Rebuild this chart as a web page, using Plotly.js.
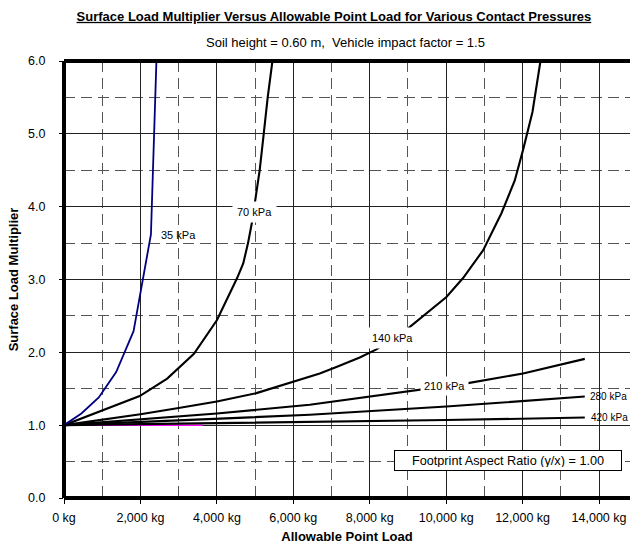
<!DOCTYPE html>
<html>
<head>
<meta charset="utf-8">
<script src="https://cdn.plot.ly/plotly-3.0.1.min.js"></script>
<style>html,body{margin:0;padding:0;background:#fff;}#chart{width:630px;height:544px;}</style>
</head>
<body>
<div id="chart"></div>
<script>
// ---- data ----
var x35 = [0, 455, 910, 1365, 1820, 2275, 2418];
var y35 = [1.00, 1.16, 1.38, 1.73, 2.29, 3.62, 6.00];

var x70 = [0, 930, 1980, 2700, 3030, 3400, 4000, 4340, 4530, 4690, 4815, 4920, 5035, 5120, 5226, 5330, 5454];
var y70 = [1.00, 1.19, 1.40, 1.64, 1.80, 1.98, 2.44, 2.81, 3.02, 3.22, 3.50, 3.79, 4.18, 4.50, 5.00, 5.50, 6.00];

var x140 = [0, 1000, 2000, 3000, 4000, 5035, 6168, 6692, 7128, 7738, 8175, 9003, 10007, 10442, 10965, 11446, 11795, 12012, 12258, 12345, 12467];
var y140 = [1.00, 1.07, 1.15, 1.235, 1.325, 1.44, 1.62, 1.71, 1.80, 1.93, 2.04, 2.33, 2.76, 3.02, 3.40, 3.91, 4.36, 4.78, 5.30, 5.60, 6.00];

var x210 = [0, 2000, 4000, 6430, 8000, 9309, 10573, 12012, 13627];
var y210 = [1.00, 1.075, 1.16, 1.28, 1.39, 1.485, 1.577, 1.71, 1.91];

var x280 = [0, 2000, 4000, 6430, 10007, 13627];
var y280 = [1.00, 1.043, 1.088, 1.142, 1.256, 1.393];

var x420 = [0, 3000, 6430, 10000, 13627];
var y420 = [1.00, 1.019, 1.042, 1.070, 1.105];

var xMag = [0, 3630];
var yMag = [1.00, 1.00];

var seriesLabels = ['35 kPa', '70 kPa', '140 kPa', '210 kPa', '280 kPa', '420 kPa'];

var xTickVals = [0, 2000, 4000, 6000, 8000, 10000, 12000, 14000];
var xTickText = ['0 kg', '2,000 kg', '4,000 kg', '6,000 kg', '8,000 kg', '10,000 kg', '12,000 kg', '14,000 kg'];
var xMinorVals = [1000, 3000, 5000, 7000, 9000, 11000, 13000];
var yTickVals = [0, 1, 2, 3, 4, 5, 6];
var yTickText = ['0.0', '1.0', '2.0', '3.0', '4.0', '5.0', '6.0'];
var yMinorVals = [0.5, 1.5, 2.5, 3.5, 4.5, 5.5];

var titleText = 'Surface Load Multiplier Versus Allowable Point Load for Various Contact Pressures';
var subtitleText = 'Soil height = 0.60 m,&nbsp; Vehicle impact factor = 1.5';
var boxText = 'Footprint Aspect Ratio (y/x) = 1.00';

// ---- chart ----
var FONT = 'Arial, "Liberation Sans", sans-serif';
function line(x, y, color, w, name) {
  return {x: x, y: y, type: 'scatter', mode: 'lines', name: name,
          line: {color: color, width: w}, hoverinfo: 'skip', cliponaxis: true};
}
var traces = [
  line(xMag, yMag, '#ff00ff', 1.5, 'hidden'),
  line(x420, y420, '#000000', 2.1, seriesLabels[5]),
  line(x280, y280, '#000000', 2.1, seriesLabels[4]),
  line(x210, y210, '#000000', 2.1, seriesLabels[3]),
  line(x140, y140, '#000000', 2.1, seriesLabels[2]),
  line(x70, y70, '#000000', 2.1, seriesLabels[1]),
  line(x35, y35, '#000080', 1.8, seriesLabels[0])
];

var lblFont = {family: FONT, size: 11, color: '#000'};
var smallFont = {family: FONT, size: 10, color: '#000'};
var annotations = [
  {x: 2478, y: 3.61, xref: 'x', yref: 'y', text: seriesLabels[0], showarrow: false, xanchor: 'left', yanchor: 'middle', font: lblFont},
  {x: 4991, y: 3.92, xref: 'x', yref: 'y', text: seriesLabels[1], showarrow: false, xanchor: 'center', yanchor: 'middle', font: lblFont, bgcolor: '#fff', borderpad: 4},
  {x: 8602, y: 2.20, xref: 'x', yref: 'y', text: seriesLabels[2], showarrow: false, xanchor: 'center', yanchor: 'middle', font: lblFont, bgcolor: '#fff', borderpad: 4},
  {x: 9963, y: 1.54, xref: 'x', yref: 'y', text: seriesLabels[3], showarrow: false, xanchor: 'center', yanchor: 'middle', font: lblFont, bgcolor: '#fff', borderpad: 3},
  {x: 13745, y: 1.393, xref: 'x', yref: 'y', text: seriesLabels[4], showarrow: false, xanchor: 'left', yanchor: 'middle', font: smallFont, borderpad: 0},
  {x: 13755, y: 1.105, xref: 'x', yref: 'y', text: seriesLabels[5], showarrow: false, xanchor: 'left', yanchor: 'middle', font: smallFont, borderpad: 0},
  {x: 11612, y: 0.52, xref: 'x', yref: 'y', text: boxText, showarrow: false, xanchor: 'center', yanchor: 'middle',
   font: {family: FONT, size: 12.7, color: '#000'}, bgcolor: '#fff', bordercolor: '#000', borderwidth: 1, borderpad: 3, width: 220, height: 13},
  {x: 0.4965, y: 1.043, xref: 'paper', yref: 'paper', text: subtitleText, showarrow: false, xanchor: 'center', yanchor: 'middle',
   font: {family: FONT, size: 13, color: '#000'}}
];

var border = {color: '#000', width: 4};
var shapes = [
  {type: 'line', xref: 'paper', yref: 'paper', x0: 0, x1: 0, y0: 0, y1: 1, line: border, layer: 'above'},
  {type: 'line', xref: 'paper', yref: 'paper', x0: 0, x1: 1, y0: 0, y1: 0, line: border, layer: 'above'},
  {type: 'line', xref: 'paper', yref: 'paper', x0: 0, x1: 1, y0: 1, y1: 1, line: border, layer: 'above'}
];

var layout = {
  width: 630, height: 544,
  margin: {l: 64, r: 0, t: 61, b: 46, pad: 0},
  paper_bgcolor: '#fff', plot_bgcolor: '#fff',
  showlegend: false,
  font: {family: FONT, size: 12.5, color: '#000'},
  title: {text: '<b><u>' + titleText + '</u></b>', x: 0.530, xanchor: 'center', xref: 'container',
          y: 0.970, yanchor: 'middle', yref: 'container', font: {family: FONT, size: 13, color: '#000'}},
  xaxis: {
    range: [0, 14810], tickmode: 'array', tickvals: xTickVals, ticktext: xTickText,
    ticks: 'outside', ticklen: 5, tickwidth: 1, tickcolor: '#000', ticklabelstandoff: 3,
    showgrid: true, gridcolor: '#222', gridwidth: 1, zeroline: false, showline: false,
    minor: {tickmode: 'array', tickvals: xMinorVals, showgrid: true, gridcolor: '#555', gridwidth: 1, griddash: '11px,6px', ticks: ''},
    tickfont: {family: FONT, size: 12.5, color: '#000'},
    title: {text: '<b>Allowable Point Load</b>', font: {family: FONT, size: 13, color: '#000'}, standoff: 8},
    automargin: false, fixedrange: true
  },
  yaxis: {
    range: [0, 6], tickmode: 'array', tickvals: yTickVals, ticktext: yTickText,
    ticks: 'outside', ticklen: 4, tickwidth: 1, tickcolor: '#000', ticklabelstandoff: 11,
    showgrid: true, gridcolor: '#222', gridwidth: 1, zeroline: false, showline: false,
    minor: {tickmode: 'array', tickvals: yMinorVals, showgrid: true, gridcolor: '#555', gridwidth: 1, griddash: '11px,6px', ticks: ''},
    tickfont: {family: FONT, size: 12.5, color: '#000'},
    title: {text: '<b>Surface Load Multiplier</b>', font: {family: FONT, size: 13, color: '#000'}, standoff: 6},
    automargin: false, fixedrange: true
  },
  annotations: annotations,
  shapes: shapes
};

Plotly.newPlot('chart', traces, layout, {staticPlot: true, displayModeBar: false});
</script>
</body>
</html>
